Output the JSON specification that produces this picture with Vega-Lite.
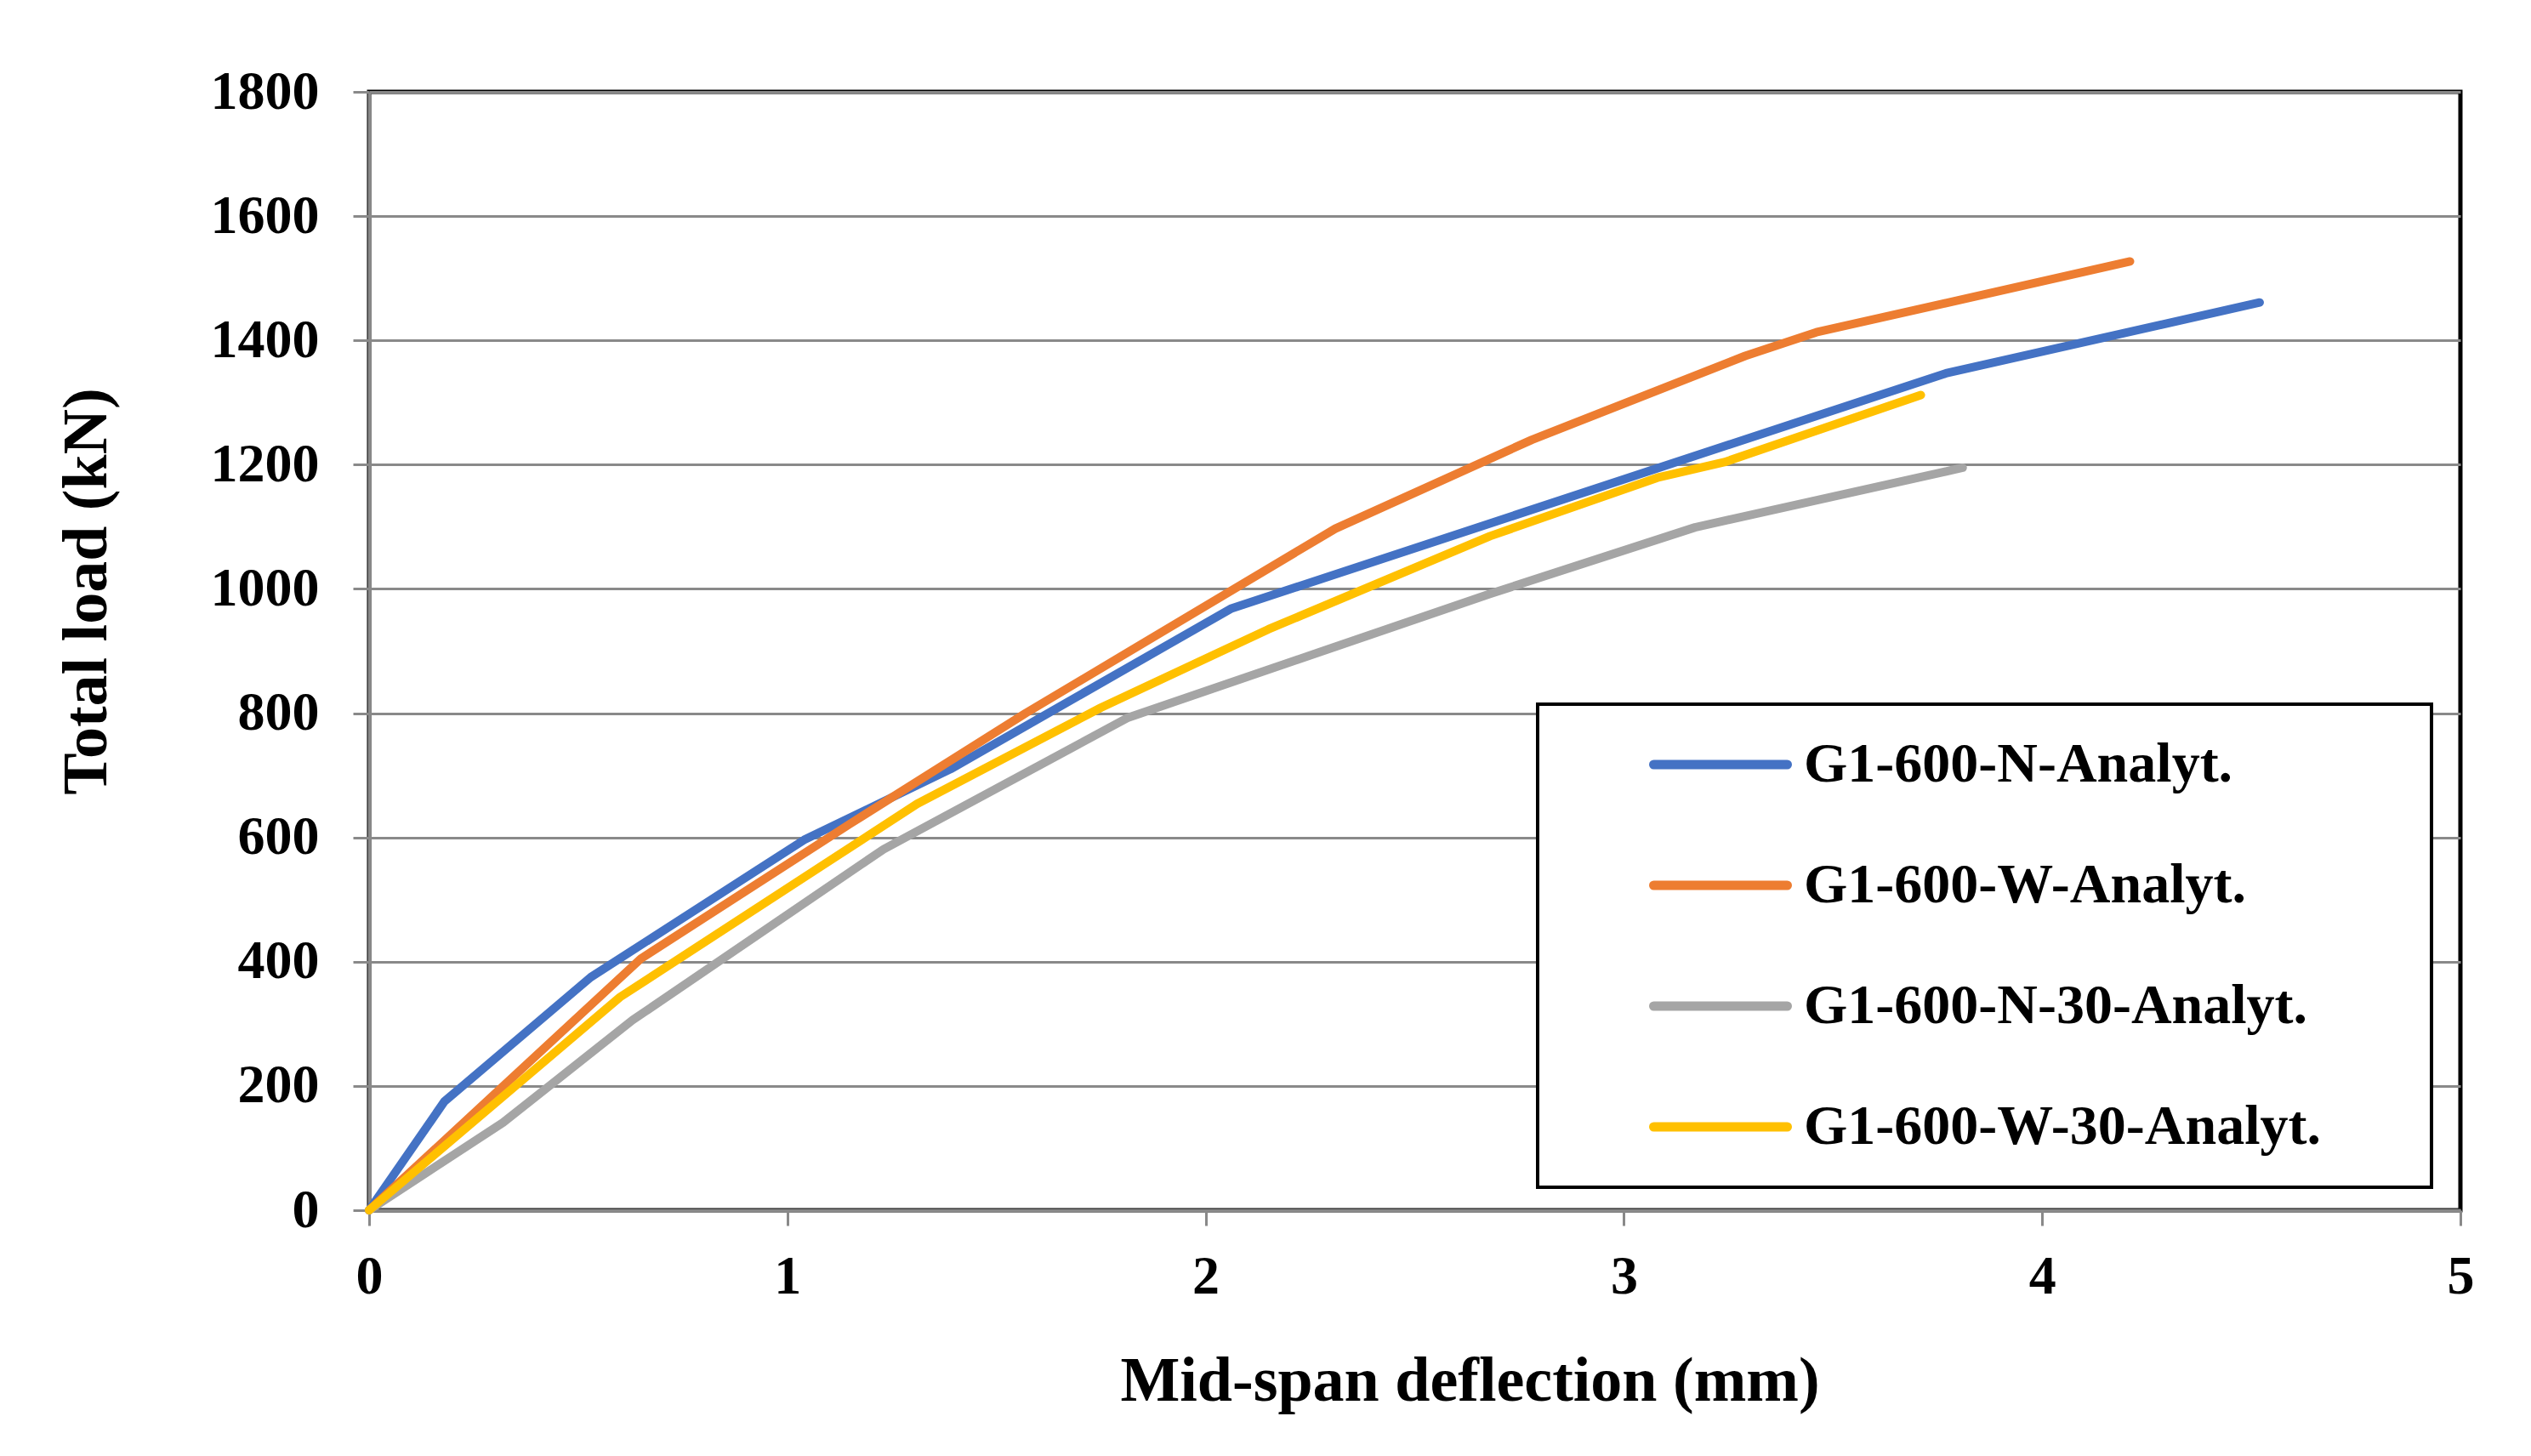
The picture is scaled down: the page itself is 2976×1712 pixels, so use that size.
{
  "$schema": "https://vega.github.io/schema/vega-lite/v6.json",
  "width": 2459,
  "height": 1315,
  "autosize": {"type": "none"},
  "padding": {"left": 434, "top": 108, "right": 83, "bottom": 289},
  "background": "white",
  "config": {
    "font": "Liberation Serif",
    "view": {"stroke": "black", "strokeWidth": 5}
  },
  "data": {
    "values": [
      {"series": "G1-600-N-Analyt.", "deflection": 0, "load": 0},
      {"series": "G1-600-N-Analyt.", "deflection": 0.18, "load": 175},
      {"series": "G1-600-N-Analyt.", "deflection": 0.53, "load": 375},
      {"series": "G1-600-N-Analyt.", "deflection": 1.04, "load": 596},
      {"series": "G1-600-N-Analyt.", "deflection": 1.39, "load": 710},
      {"series": "G1-600-N-Analyt.", "deflection": 2.06, "load": 968},
      {"series": "G1-600-N-Analyt.", "deflection": 3.77, "load": 1347},
      {"series": "G1-600-N-Analyt.", "deflection": 4.52, "load": 1461},
      {"series": "G1-600-W-Analyt.", "deflection": 0, "load": 0},
      {"series": "G1-600-W-Analyt.", "deflection": 0.65, "load": 405},
      {"series": "G1-600-W-Analyt.", "deflection": 1.15, "load": 622},
      {"series": "G1-600-W-Analyt.", "deflection": 1.57, "load": 800},
      {"series": "G1-600-W-Analyt.", "deflection": 2.31, "load": 1097},
      {"series": "G1-600-W-Analyt.", "deflection": 2.78, "load": 1240},
      {"series": "G1-600-W-Analyt.", "deflection": 3.29, "load": 1375},
      {"series": "G1-600-W-Analyt.", "deflection": 3.46, "load": 1413},
      {"series": "G1-600-W-Analyt.", "deflection": 4.21, "load": 1527},
      {"series": "G1-600-N-30-Analyt.", "deflection": 0, "load": 0},
      {"series": "G1-600-N-30-Analyt.", "deflection": 0.32, "load": 141},
      {"series": "G1-600-N-30-Analyt.", "deflection": 0.63, "load": 306},
      {"series": "G1-600-N-30-Analyt.", "deflection": 1.23, "load": 581},
      {"series": "G1-600-N-30-Analyt.", "deflection": 1.815, "load": 793},
      {"series": "G1-600-N-30-Analyt.", "deflection": 2.68, "load": 992},
      {"series": "G1-600-N-30-Analyt.", "deflection": 3.17, "load": 1099},
      {"series": "G1-600-N-30-Analyt.", "deflection": 3.81, "load": 1195},
      {"series": "G1-600-W-30-Analyt.", "deflection": 0, "load": 0},
      {"series": "G1-600-W-30-Analyt.", "deflection": 0.6, "load": 343},
      {"series": "G1-600-W-30-Analyt.", "deflection": 1.31, "load": 654},
      {"series": "G1-600-W-30-Analyt.", "deflection": 1.75, "load": 809},
      {"series": "G1-600-W-30-Analyt.", "deflection": 2.15, "load": 935},
      {"series": "G1-600-W-30-Analyt.", "deflection": 2.68, "load": 1085},
      {"series": "G1-600-W-30-Analyt.", "deflection": 3.08, "load": 1179},
      {"series": "G1-600-W-30-Analyt.", "deflection": 3.24, "load": 1204},
      {"series": "G1-600-W-30-Analyt.", "deflection": 3.71, "load": 1312}
    ]
  },
  "mark": {"type": "line", "strokeWidth": 10, "strokeCap": "round", "strokeJoin": "round"},
  "encoding": {
    "x": {
      "field": "deflection",
      "type": "quantitative",
      "scale": {"domain": [0, 5], "nice": false},
      "axis": {
        "values": [0, 1, 2, 3, 4, 5],
        "format": "d",
        "grid": false,
        "title": "Mid-span deflection (mm)",
        "titleFont": "Liberation Serif",
        "titleFontSize": 74,
        "titleFontWeight": "bold",
        "titleColor": "black",
        "titleX": 1294,
        "titleY": 223,
        "titleAlign": "center",
        "titleBaseline": "alphabetic",
        "labelFont": "Liberation Serif",
        "labelFontSize": 64,
        "labelFontWeight": "bold",
        "labelColor": "black",
        "labelPadding": 28,
        "labelFlush": false,
        "labelAngle": 0,
        "tickSize": 18,
        "tickWidth": 3,
        "tickColor": "#898989",
        "domainColor": "#898989",
        "domainWidth": 4
      }
    },
    "y": {
      "field": "load",
      "type": "quantitative",
      "scale": {"domain": [0, 1800], "nice": false},
      "axis": {
        "values": [0, 200, 400, 600, 800, 1000, 1200, 1400, 1600, 1800],
        "format": "d",
        "grid": true,
        "gridColor": "#898989",
        "gridWidth": 3,
        "title": "Total load (kN)",
        "titleFont": "Liberation Serif",
        "titleFontSize": 74,
        "titleFontWeight": "bold",
        "titleColor": "black",
        "titleX": -310,
        "titleY": 587,
        "titleAngle": -90,
        "titleAlign": "center",
        "titleBaseline": "alphabetic",
        "labelFont": "Liberation Serif",
        "labelFontSize": 64,
        "labelFontWeight": "bold",
        "labelColor": "black",
        "labelPadding": 40,
        "labelFlush": false,
        "tickSize": 19,
        "tickWidth": 3,
        "tickColor": "#898989",
        "domainColor": "#898989",
        "domainWidth": 4
      }
    },
    "color": {
      "field": "series",
      "type": "nominal",
      "sort": null,
      "scale": {
        "domain": ["G1-600-N-Analyt.", "G1-600-W-Analyt.", "G1-600-N-30-Analyt.", "G1-600-W-30-Analyt."],
        "range": ["#4472C4", "#ED7D31", "#A5A5A5", "#FFC000"]
      },
      "legend": {
        "orient": "none",
        "legendX": 1374,
        "legendY": 720,
        "title": "\u00a0",
        "titleOrient": "right",
        "titlePadding": 92,
        "titleFontSize": 66,
        "padding": 38,
        "fillColor": "white",
        "strokeColor": "black",
        "symbolType": "stroke",
        "symbolSize": 24649,
        "symbolStrokeWidth": 11,
        "symbolOffset": 93,
        "clipHeight": 66,
        "labelFont": "Liberation Serif",
        "labelFontSize": 66,
        "labelFontWeight": "bold",
        "labelColor": "black",
        "labelOffset": 14,
        "labelLimit": 1000,
        "rowPadding": 76,
        "encode": {
          "legend": {"update": {"strokeWidth": {"value": 4}}},
          "symbols": {"update": {"strokeCap": {"value": "round"}}}
        }
      }
    }
  }
}
